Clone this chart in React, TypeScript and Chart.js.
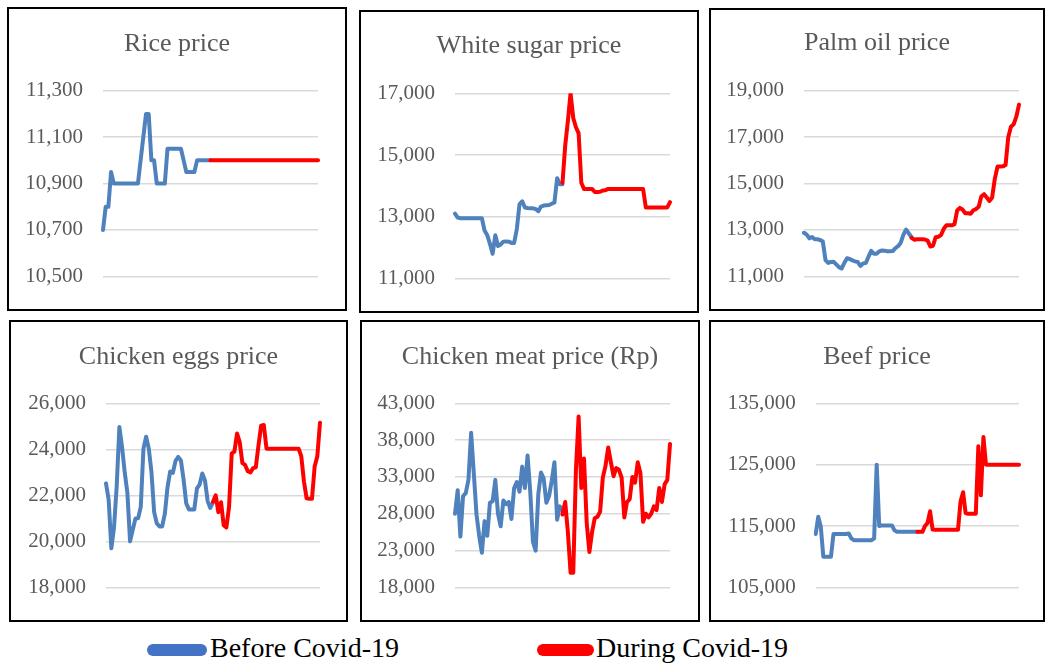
import React, { useEffect, useRef } from "react";
import { Chart, registerables } from "chart.js";

Chart.register(...registerables);

// ---------- DATA ----------
const riceBefore = [10700, 10800, 10800, 10950, 10900, 10900, 10900, 10900, 10900, 10900, 10900, 10900, 10900, 10900, 11000, 11100, 11200, 11200, 11000, 11000, 10900, 10900, 10900, 10900, 11050, 11050, 11050, 11050, 11050, 11050, 11000, 10950, 10950, 10950, 10950, 11000, 11000, 11000, 11000, 11000, 11000];
const riceDuring = [11000, 11000, 11000, 11000, 11000, 11000, 11000, 11000, 11000, 11000, 11000, 11000, 11000, 11000, 11000, 11000, 11000, 11000, 11000, 11000, 11000, 11000, 11000, 11000, 11000, 11000, 11000, 11000, 11000, 11000, 11000, 11000, 11000, 11000, 11000, 11000, 11000, 11000, 11000, 11000, 11000];

const sugarBefore = [13100, 12970, 12950, 12950, 12950, 12950, 12950, 12950, 12950, 12950, 12950, 12550, 12400, 12120, 11800, 12400, 12050, 12100, 12190, 12200, 12190, 12150, 12150, 12600, 13400, 13500, 13300, 13280, 13270, 13270, 13250, 13180, 13330, 13360, 13370, 13380, 13420, 13460, 14250, 14050, 14050];
const sugarDuring = [14100, 15300, 16100, 17000, 16200, 15900, 15700, 14100, 13900, 13900, 13900, 13900, 13800, 13800, 13810, 13850, 13860, 13900, 13900, 13900, 13900, 13900, 13900, 13900, 13900, 13900, 13900, 13900, 13900, 13900, 13900, 13300, 13300, 13300, 13300, 13300, 13300, 13300, 13300, 13300, 13470];

const palmBefore = [12880, 12800, 12640, 12700, 12600, 12600, 12570, 12500, 11700, 11580, 11620, 11630, 11520, 11400, 11340, 11580, 11780, 11750, 11690, 11650, 11620, 11450, 11560, 11580, 11850, 12100, 11980, 11980, 12080, 12120, 12110, 12080, 12080, 12090, 12220, 12300, 12450, 12800, 13020, 12850, 12700];
const palmDuring = [12660, 12580, 12600, 12600, 12600, 12590, 12540, 12290, 12320, 12690, 12710, 12780, 13050, 13200, 13200, 13200, 13250, 13840, 13950, 13880, 13720, 13720, 13700, 13850, 13900, 14000, 14450, 14540, 14400, 14250, 14400, 15200, 15730, 15730, 15740, 15800, 17000, 17450, 17550, 17880, 18400];

const eggsBefore = [22520, 21800, 19700, 20600, 22400, 24970, 24100, 23000, 22100, 20000, 20500, 20990, 21000, 21500, 24030, 24550, 24030, 23000, 21270, 20780, 20650, 20650, 21200, 22350, 23040, 22980, 23500, 23670, 23520, 22690, 21650, 21390, 21390, 21390, 22300, 22470, 22950, 22650, 21750, 21450, 21700];
const eggsDuring = [21720, 22000, 21270, 21700, 20700, 20600, 21500, 23820, 23900, 24690, 24300, 23400, 23320, 23050, 23000, 23180, 23220, 24170, 25030, 25060, 24030, 24030, 24030, 24030, 24030, 24030, 24030, 24030, 24030, 24030, 24030, 24030, 24030, 23700, 22600, 21870, 21850, 21850, 23250, 23700, 25160];

const meatBefore = [28000, 31200, 24900, 30400, 30800, 32600, 39000, 33500, 27900, 25000, 22700, 27000, 25000, 29500, 29700, 32600, 28000, 26300, 29800, 29300, 29600, 27300, 31500, 32300, 31000, 34400, 31500, 35900, 31000, 24200, 23000, 30700, 33600, 32800, 29500, 30400, 32500, 35000, 27200, 29000, 28500];
const meatDuring = [27900, 29600, 25500, 20000, 20000, 34000, 41200, 31500, 35500, 26800, 22800, 25500, 27400, 27600, 28300, 32900, 34500, 37000, 35000, 33100, 34200, 33970, 32900, 27500, 29600, 30000, 33000, 32230, 35000, 33500, 26900, 28000, 27500, 28000, 29000, 28500, 31500, 29600, 32000, 32600, 37470];

const beefBefore = [113700, 116500, 114900, 110000, 110000, 110000, 110000, 113700, 113700, 113700, 113700, 113700, 113700, 113800, 113000, 112700, 112700, 112700, 112700, 112700, 112700, 112700, 112700, 113000, 125000, 115000, 115100, 115100, 115100, 115100, 115100, 114300, 114050, 114050, 114050, 114050, 114050, 114050, 114050, 114050, 114050];
const beefDuring = [114050, 114050, 114050, 115000, 115500, 117400, 114450, 114400, 114400, 114400, 114400, 114400, 114400, 114400, 114400, 114400, 114400, 119000, 120500, 117100, 117000, 117000, 117000, 117000, 128000, 120000, 129500, 125000, 125000, 125000, 125000, 125000, 125000, 125000, 125000, 125000, 125000, 125000, 125000, 125000, 125000];

const titles = ["Rice price", "White sugar price", "Palm oil price", "Chicken eggs price", "Chicken meat price (Rp)", "Beef price"];
const yMins = [10500, 11000, 11000, 18000, 18000, 105000];
const yMaxs = [11300, 17000, 19000, 26000, 43000, 135000];
const ySteps = [200, 2000, 2000, 2000, 5000, 10000];
const legendLabels = ["Before Covid-19", "During Covid-19"];

// ---------- LAYOUT (absolute page px) ----------
type Rect = { l: number; t: number; r: number; b: number };
const boxes: Rect[] = [
  { l: 7, t: 7, r: 347, b: 311 },
  { l: 359, t: 10, r: 699, b: 313 },
  { l: 709, t: 8, r: 1045, b: 311 },
  { l: 9, t: 320, r: 348, b: 622 },
  { l: 360, t: 320, r: 700, b: 622 },
  { l: 709, t: 320, r: 1045, b: 622 },
];
const areas: Rect[] = [
  { l: 103, t: 90.7, r: 318, b: 281 },
  { l: 455, t: 93.3, r: 670, b: 283.3 },
  { l: 804, t: 90.7, r: 1019, b: 280.7 },
  { l: 106, t: 403.3, r: 320, b: 592.7 },
  { l: 455, t: 403.3, r: 670, b: 592.3 },
  { l: 815.7, t: 403.3, r: 1019, b: 592.7 },
];
const titleCenters = [44, 46, 43.5, 356.7, 356.7, 356.7];

const BORDER = 2;
const BLUE = "#4F81BD";
const RED = "#FF0000";
const GREY_TEXT = "#595959";
const FONT = "'Liberation Serif', 'Times New Roman', serif";
const TITLE_SIZE = 26;

type PanelProps = {
  idx: number;
  before: number[];
  during: number[];
};

function Panel({ idx, before, during }: PanelProps) {
  const ref = useRef<HTMLCanvasElement | null>(null);
  const box = boxes[idx];
  const area = areas[idx];
  const innerL = box.l + BORDER;
  const innerT = box.t + BORDER;
  const innerW = box.r - box.l - 2 * BORDER;
  const innerH = box.b - box.t - 2 * BORDER;

  useEffect(() => {
    if (!ref.current) return;
    const n = before.length + during.length - 1;
    const labels = Array.from({ length: n }, (_, i) => String(i));
    const blue: (number | null)[] = [...before, ...new Array(during.length - 1).fill(null)];
    const red: (number | null)[] = [...new Array(before.length - 1).fill(null), ...during];

    const leftW = area.l - innerL;
    const rightW = innerL + innerW - area.r;
    const padBottom = innerT + innerH - area.b;
    const lh = TITLE_SIZE * 1.2;
    const tPadTop = titleCenters[idx] - innerT - lh / 2;
    const tPadBottom = area.t - innerT - tPadTop - lh;

    const chart = new Chart(ref.current, {
      type: "line",
      data: {
        labels,
        datasets: [
          { label: legendLabels[0], data: blue, borderColor: BLUE, backgroundColor: BLUE, order: 2, yAxisID: "y" },
          { label: legendLabels[1], data: red, borderColor: RED, backgroundColor: RED, order: 1, yAxisID: "y" },
        ],
      },
      options: {
        animation: false,
        responsive: false,
        maintainAspectRatio: false,
        locale: "en-US",
        layout: { padding: { top: 0, left: 0, right: 0, bottom: padBottom } },
        elements: {
          point: { radius: 0, hoverRadius: 0 },
          line: { tension: 0, borderWidth: 4, borderCapStyle: "round", borderJoinStyle: "round" },
        },
        plugins: {
          legend: { display: false },
          tooltip: { enabled: false },
          title: {
            display: true,
            text: titles[idx],
            color: GREY_TEXT,
            font: { family: FONT, size: TITLE_SIZE, weight: "normal", lineHeight: 1.2 },
            padding: { top: tPadTop, bottom: tPadBottom },
          },
        },
        scales: {
          x: { display: false, offset: false },
          y: {
            position: "left",
            min: yMins[idx],
            max: yMaxs[idx],
            border: { display: false },
            grid: { color: "#D9D9D9", lineWidth: 1.5, drawTicks: false },
            ticks: {
              stepSize: ySteps[idx],
              padding: 20,
              color: GREY_TEXT,
              font: { family: FONT, size: 21 },
              callback: (v: any) => Number(v).toLocaleString("en-US"),
            },
            afterFit: (s: any) => {
              s.width = leftW;
            },
          },
          yRight: {
            position: "right",
            display: true,
            min: 0,
            max: 1,
            border: { display: false },
            grid: { display: false, drawTicks: false },
            ticks: { display: false },
            afterFit: (s: any) => {
              s.width = rightW;
            },
          },
        },
      },
    } as any);
    return () => chart.destroy();
  }, []);

  return (
    <div
      style={{
        position: "absolute",
        left: box.l,
        top: box.t,
        width: box.r - box.l,
        height: box.b - box.t,
        border: `${BORDER}px solid #000`,
        boxSizing: "border-box",
        background: "#fff",
      }}
    >
      <canvas ref={ref} width={innerW} height={innerH} style={{ display: "block", width: innerW, height: innerH }} />
    </div>
  );
}

export default function App() {
  const befores = [riceBefore, sugarBefore, palmBefore, eggsBefore, meatBefore, beefBefore];
  const durings = [riceDuring, sugarDuring, palmDuring, eggsDuring, meatDuring, beefDuring];
  const legendText: React.CSSProperties = {
    position: "absolute",
    top: 634,
    fontFamily: FONT,
    fontSize: 28,
    lineHeight: "28px",
    color: "#000",
    whiteSpace: "nowrap",
  };
  return (
    <div style={{ position: "absolute", left: 0, top: 0, width: 1047, height: 665, background: "#fff", overflow: "hidden" }}>
      {befores.map((b, i) => (
        <Panel key={i} idx={i} before={b} during={durings[i]} />
      ))}
      <div style={{ position: "absolute", left: 147, top: 644, width: 60, height: 12, borderRadius: 6, background: "#4472C4" }} />
      <div style={{ ...legendText, left: 210 }}>{legendLabels[0]}</div>
      <div style={{ position: "absolute", left: 537, top: 644, width: 57, height: 12, borderRadius: 6, background: RED }} />
      <div style={{ ...legendText, left: 596 }}>{legendLabels[1]}</div>
    </div>
  );
}
